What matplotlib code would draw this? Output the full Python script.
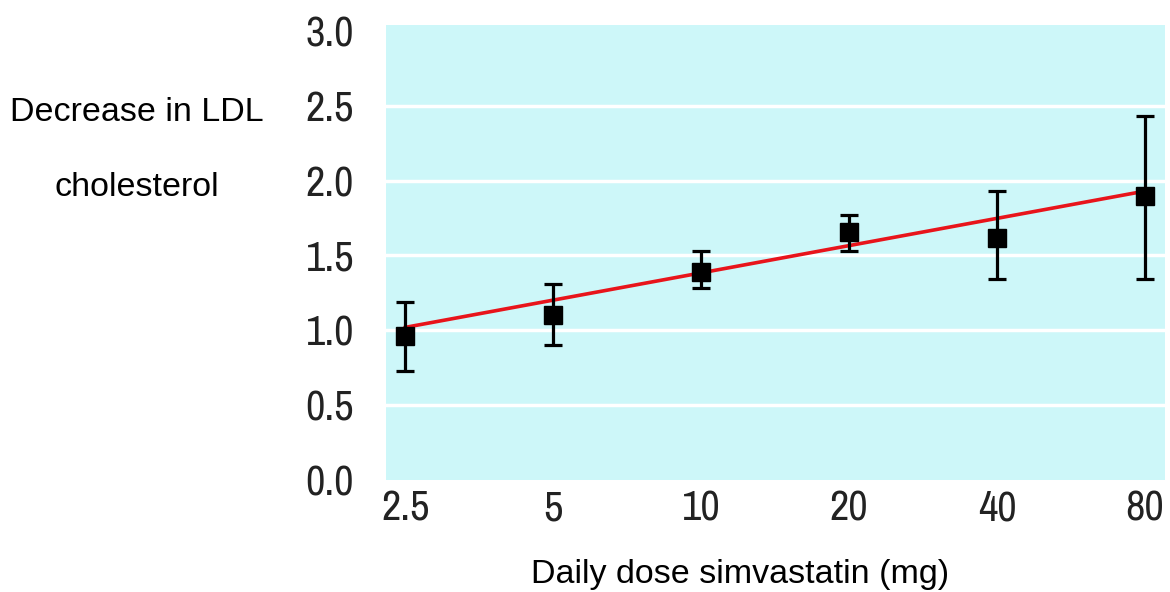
import matplotlib
matplotlib.use("Agg")
import matplotlib.pyplot as plt
from matplotlib import font_manager
from matplotlib.ticker import FixedLocator, FixedFormatter, NullLocator

# Data
doses = [2.5, 5, 10, 20, 40, 80]
dose_labels = ["2.5", "5", "10", "20", "40", "80"]
means = [0.96, 1.10, 1.39, 1.66, 1.62, 1.90]
err_low = [0.73, 0.90, 1.28, 1.53, 1.34, 1.34]
err_high = [1.19, 1.31, 1.53, 1.77, 1.93, 2.43]
fit_x = [2.5, 80]
fit_y = [1.02, 1.93]
y_ticks = [0.0, 0.5, 1.0, 1.5, 2.0, 2.5, 3.0]
y_tick_labels = ["0.0", "0.5", "1.0", "1.5", "2.0", "2.5", "3.0"]

# pick a condensed font file if one is installed
cond_file = None
cands = []
for f in font_manager.fontManager.ttflist:
    n = f.name.lower()
    fn = f.fname.lower()
    if f.style != "normal" or f.weight not in (400, "normal", "regular"):
        continue
    if "narrow" in n or "narrow" in fn:
        cands.append((0, f.fname))
    elif ("condensed" in n or "condensed" in fn) and "bold" not in fn and "semi" not in fn:
        cands.append((1, f.fname))
    elif str(f.stretch) in ("condensed", "semi-condensed") and "bold" not in fn:
        cands.append((2, f.fname))
cands.sort()
if cands:
    cond_file = cands[0][1]

regular = ["Liberation Sans", "DejaVu Sans"]

fig = plt.figure(figsize=(11.7, 5.92), dpi=100)
ax = fig.add_axes([0.33, 0.189, 0.6657, 0.769])
ax.set_facecolor("#cdf7f9")
for s in ax.spines.values():
    s.set_visible(False)

ax.set_xscale("log", base=2)
ax.set_xlim(2.5 * 2 ** -0.13, 80 * 2 ** 0.135)
ax.set_ylim(0, 3.04)

for yv in y_ticks[1:-1]:
    ax.axhline(yv, color="white", lw=2.5, zorder=1)

ax.plot(fit_x, fit_y, color="#e8141b", lw=2.6, zorder=2)

yerr = [[m - l for m, l in zip(means, err_low)], [h - m for m, h in zip(means, err_high)]]
ax.errorbar(doses, means, yerr=yerr, fmt="s", color="black", ms=13.5,
            elinewidth=2.3, capsize=6.8, capthick=2.3, zorder=3)

ax.xaxis.set_major_locator(FixedLocator(doses))
ax.xaxis.set_major_formatter(FixedFormatter(dose_labels))
ax.xaxis.set_minor_locator(NullLocator())
ax.set_yticks(y_ticks)
ax.set_yticklabels(y_tick_labels)
ax.tick_params(axis="both", length=0)
ax.tick_params(axis="x", pad=7)
ax.tick_params(axis="y", pad=23)
if cond_file:
    tprop = font_manager.FontProperties(fname=cond_file, size=30.5)
else:
    tprop = font_manager.FontProperties(family=regular, size=26)
for lab in ax.get_xticklabels() + ax.get_yticklabels():
    lab.set_fontproperties(tprop)
    lab.set_color("#222222")

fig.text(137 / 1170, 1 - 112 / 592, "Decrease in LDL", ha="center", va="center",
         fontsize=24.5, family=regular)
fig.text(137 / 1170, 1 - 188 / 592, "cholesterol", ha="center", va="center",
         fontsize=24.5, family=regular)
fig.text(740 / 1170, 1 - 574 / 592, "Daily dose simvastatin (mg)", ha="center", va="center",
         fontsize=24.5, family=regular)

fig.savefig("out.png", dpi=100, facecolor="white")
